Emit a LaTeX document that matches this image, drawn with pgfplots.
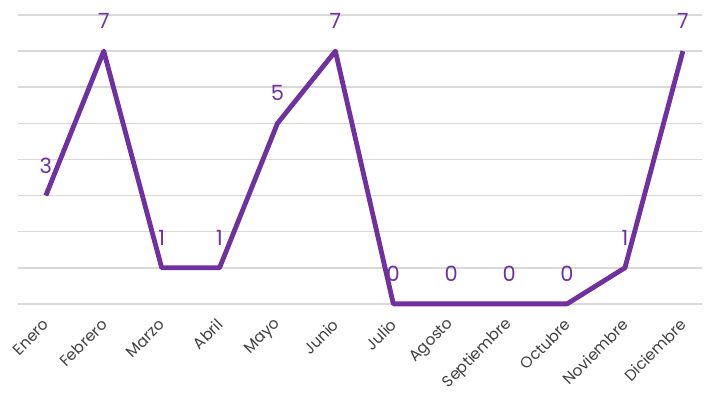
\documentclass[border=0pt]{standalone}
\usepackage{pgfplots}
\pgfplotsset{compat=1.18}
\usepackage{fontspec}
\setmainfont{Poppins}
\definecolor{morado}{HTML}{7030A0}
\definecolor{rejilla}{HTML}{D9D9D9}
\definecolor{texto}{HTML}{404040}
\begin{document}
\begin{tikzpicture}
\begin{axis}[
    name=ax,
    scale only axis,
    width=682bp, height=288bp,
    xmin=-0.48, xmax=11.33,
    ymin=0, ymax=8,
    /pgf/number format/assume math mode=true,
    ytick={0,1,...,8},
    yticklabels={},
    ymajorgrids,
    grid style={rejilla, line width=1.6bp},
    axis line style={draw=none},
    major tick style={draw=none},
    xtick=data,
    xticklabels={Enero,Febrero,Marzo,Abril,Mayo,Junio,Julio,Agosto,Septiembre,Octubre,Noviembre,Diciembre},
    xticklabel style={rotate=45, anchor=east, font=\fontsize{15.5}{17}\selectfont, text=texto, xshift=-9bp, yshift=-13bp},
    nodes near coords,
    every node near coord/.append style={anchor=center, yshift=30bp, font=\fontsize{21}{23}\selectfont, text=morado},
    clip=false,
]
\addplot[morado, line width=4.8bp, line join=round, mark=none] coordinates {
    (0,3) (1,7) (2,1) (3,1) (4,5) (5,7) (6,0) (7,0) (8,0) (9,0) (10,1) (11,7)
};
\end{axis}
% whitespace round the plot area, as in the reference
\path (ax.south west) ++(-18bp,-84bp) coordinate (a);
\path (ax.north east) ++(4bp,15bp) coordinate (b);
\end{tikzpicture}
\end{document}
